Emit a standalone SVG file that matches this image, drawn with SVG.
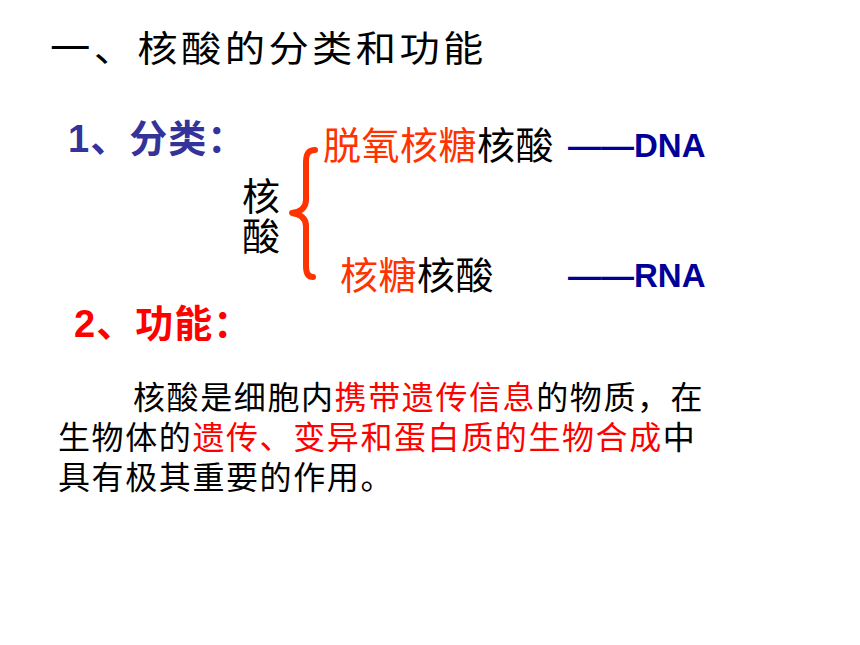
<svg xmlns="http://www.w3.org/2000/svg" width="860" height="645" viewBox="0 0 860 645">
<style>
text{font-family:"Liberation Sans","Noto Sans CJK SC",sans-serif;}
.title{font-size:36px;fill:#000;letter-spacing:3px;}
.h{font-size:38px;font-weight:bold;letter-spacing:1px;}
.blue{fill:#333399;}
.red{fill:#FF0000;}
.orange{fill:#FF3300;}
.blk{fill:#000;}
.item{font-size:38px;letter-spacing:0.5px;}
.tag{font-size:33px;font-weight:bold;fill:#000099;}
.para{font-size:32px;letter-spacing:1.6px;fill:#000;}
.brace{fill:none;stroke:#FF3300;stroke-width:6;stroke-linecap:round;stroke-linejoin:round;}
</style>
<rect width="860" height="645" fill="#fff"/>
<g id="title"><text class="title" transform="translate(50,62) scale(1.12,1)">一、核酸的分类和功能</text></g>
<g id="heading1"><text class="h blue" x="68" y="152">1、分类：</text></g>
<g id="root"><text class="item blk" x="242" y="210">核</text><text class="item blk" x="242" y="250">酸</text></g>
<g id="dna-item"><text class="item" x="323" y="159"><tspan class="orange">脱氧核糖</tspan><tspan class="blk">核酸</tspan></text></g>
<g id="rna-item"><text class="item" x="340" y="289"><tspan class="orange">核糖</tspan><tspan class="blk">核酸</tspan></text></g>
<g id="dna-tag"><text class="tag" x="568" y="157">——DNA</text></g>
<g id="rna-tag"><text class="tag" x="568" y="287">——RNA</text></g>
<g id="connectors"><path class="brace" d="M 315 150 C 308 150 306 154 306 162 L 306 200 C 306 208 300 212 292 213 C 300 214 306 218 306 226 L 306 266 C 306 273 308 277 313 277"/></g>
<g id="heading2"><text class="h red" x="74" y="337">2、功能：</text></g>
<g id="paragraph">
<text class="para" x="133" y="409">核酸是细胞内<tspan class="red">携带遗传信息</tspan>的物质，在</text>
<text class="para" x="58" y="449">生物体的<tspan class="red">遗传、变异和蛋白质的生物合成</tspan>中</text>
<text class="para" x="58" y="489">具有极其重要的作用。</text>
</g>
</svg>
